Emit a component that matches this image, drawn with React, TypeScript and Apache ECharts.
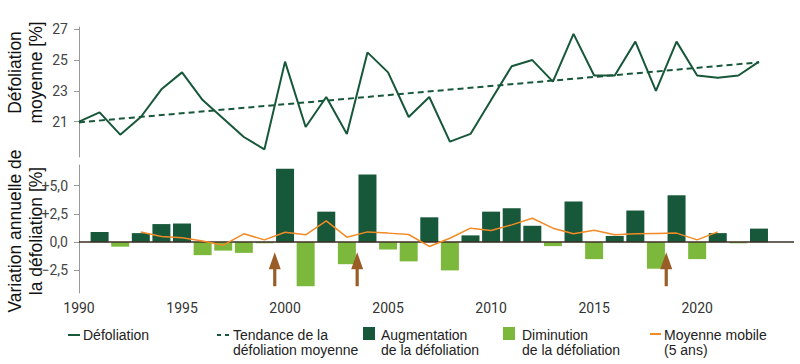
import React, { useEffect, useRef } from "react";
import * as echarts from "echarts";

const years = [
  1990, 1991, 1992, 1993, 1994, 1995, 1996, 1997, 1998, 1999, 2000, 2001,
  2002, 2003, 2004, 2005, 2006, 2007, 2008, 2009, 2010, 2011, 2012, 2013,
  2014, 2015, 2016, 2017, 2018, 2019, 2020, 2021, 2022, 2023,
];
const defoliation = [
  21.0, 21.6, 20.15, 21.3, 23.1, 24.2, 22.4, 21.2, 20.0, 19.2, 24.9, 20.65,
  22.6, 20.2, 25.5, 24.2, 21.3, 22.6, 19.7, 20.2, 22.4, 24.6, 25.0, 23.6,
  26.7, 24.0, 24.0, 26.2, 23.0, 26.2, 24.0, 23.85, 24.0, 24.9,
];
const trendYears = [1990, 2023];
const trendValues = [20.95, 24.85];

const changeYears = [
  1991, 1992, 1993, 1994, 1995, 1996, 1997, 1998, 1999, 2000, 2001, 2002,
  2003, 2004, 2005, 2006, 2007, 2008, 2009, 2010, 2011, 2012, 2013, 2014,
  2015, 2016, 2017, 2018, 2019, 2020, 2021, 2022, 2023,
];
const changes = [
  0.9, -0.4, 0.8, 1.6, 1.65, -1.15, -0.75, -0.95, -0.1, 6.5, -3.9, 2.7,
  -1.95, 6.0, -0.65, -1.7, 2.2, -2.5, 0.6, 2.7, 3.0, 1.45, -0.35, 3.6,
  -1.5, 0.55, 2.8, -2.35, 4.15, -1.5, 0.8, -0.1, 1.2,
];

const movingYears = [
  1993, 1994, 1995, 1996, 1997, 1998, 1999, 2000, 2001, 2002, 2003, 2004,
  2005, 2006, 2007, 2008, 2009, 2010, 2011, 2012, 2013, 2014, 2015, 2016,
  2017, 2018, 2019, 2020, 2021,
];
const movingAvg = [
  0.9, 0.5, 0.4, 0.1, -0.27, 0.74, 0.2, 0.88, 0.65, 1.89, 0.44, 0.91, 0.8,
  0.68, -0.38, 0.35, 1.24, 1.03, 1.53, 2.12, 1.24, 0.74, 1.06, 0.65, 0.74,
  0.77, 0.8, 0.2, 0.91,
];

const arrowYears = [1999.5, 2003.5, 2018.5];
const arrowLevel = -2.4;

const xTicks = [1990, 1995, 2000, 2005, 2010, 2015, 2020];
const topTicks = [21, 23, 25, 27];
const bottomTicks = [-2.5, 0, 2.5, 5];

const DARK = "#17573a";
const LIGHT = "#7cb83b";
const ORANGE = "#f28a25";
const BROWN = "#9a5d27";
const AXIS_GREY = "#9a9a9a";
const NARROW = "Roboto, 'Liberation Sans', sans-serif";
const SANS = "'Liberation Sans', Arial, sans-serif";

export default function App() {
  const ref = useRef<HTMLDivElement>(null);

  useEffect(() => {
    if (!ref.current) return;
    const chart = echarts.init(ref.current, null, { renderer: "svg" });

    const xMin = 1990;
    const xMax = 2024.7;

    const fmtBottom = (v: number) => {
      if (v === 0) return "0,0";
      const s = Math.abs(v).toFixed(1).replace(".", ",");
      return (v > 0 ? "+" : "\u2212") + s;
    };

    const legendText = (x: number, text: string) => ({
      type: "text",
      x,
      y: 327.5,
      style: {
        text,
        font: `14px ${SANS}`,
        fill: "#222",
        textVerticalAlign: "top",
        lineHeight: 15,
      },
    });

    const option: any = {
      animation: false,
      backgroundColor: "#ffffff",
      grid: [
        { left: 79, top: 27, width: 715, height: 130, containLabel: false },
        { left: 79, top: 165, width: 715, height: 128, containLabel: false },
      ],
      xAxis: [
        {
          gridIndex: 0,
          type: "value",
          min: xMin,
          max: xMax,
          show: false,
        },
        {
          gridIndex: 1,
          type: "value",
          min: xMin,
          max: xMax,
          position: "bottom",
          axisLine: { show: false, onZero: false },
          axisTick: { show: false },
          splitLine: { show: false },
          axisLabel: {
            customValues: xTicks,
            formatter: (v: number) => String(v),
            fontFamily: NARROW,
            fontSize: 14,
            color: "#333",
            margin: 8,
          },
        },
      ],
      yAxis: [
        {
          gridIndex: 0,
          type: "value",
          min: 18.7,
          max: 27.15,
          axisLine: { show: true, lineStyle: { color: AXIS_GREY, width: 1 } },
          axisTick: {
            show: true,
            customValues: topTicks,
            length: 5,
            lineStyle: { color: AXIS_GREY },
          },
          splitLine: { show: false },
          axisLabel: {
            customValues: topTicks,
            formatter: (v: number) => String(v),
            fontFamily: NARROW,
            fontSize: 14,
            color: "#444",
            margin: 11,
          },
        },
        {
          gridIndex: 1,
          type: "value",
          min: -4.5,
          max: 6.83,
          axisLine: {
            show: true,
            onZero: false,
            lineStyle: { color: AXIS_GREY, width: 1 },
          },
          axisTick: {
            show: true,
            customValues: bottomTicks,
            length: 5,
            lineStyle: { color: AXIS_GREY },
          },
          splitLine: { show: false },
          axisLabel: {
            customValues: bottomTicks,
            formatter: fmtBottom,
            fontFamily: NARROW,
            fontSize: 14,
            color: "#444",
            margin: 11,
          },
        },
      ],
      series: [
        {
          name: "Défoliation",
          type: "line",
          xAxisIndex: 0,
          yAxisIndex: 0,
          data: years.map((y, i) => [y, defoliation[i]]),
          symbol: "none",
          lineStyle: { color: DARK, width: 2 },
          z: 3,
        },
        {
          name: "Tendance",
          type: "line",
          xAxisIndex: 0,
          yAxisIndex: 0,
          data: trendYears.map((y, i) => [y, trendValues[i]]),
          symbol: "none",
          lineStyle: { color: DARK, width: 2, type: [6, 4] },
          z: 2,
        },
        {
          name: "Variation",
          type: "bar",
          xAxisIndex: 1,
          yAxisIndex: 1,
          barWidth: 18,
          data: changeYears.map((y, i) => [y, changes[i]]),
          itemStyle: {
            color: (p: any) => (p.value[1] >= 0 ? DARK : LIGHT),
          },
          markLine: {
            silent: true,
            symbol: "none",
            label: { show: false },
            lineStyle: { color: "#3a2e22", width: 1.5, type: "solid" },
            data: [{ yAxis: 0 }],
            z: 4,
          },
          z: 2,
        },
        {
          name: "Moyenne mobile",
          type: "line",
          xAxisIndex: 1,
          yAxisIndex: 1,
          data: movingYears.map((y, i) => [y, movingAvg[i]]),
          symbol: "none",
          lineStyle: { color: ORANGE, width: 1.5 },
          z: 5,
        },
        {
          name: "Flèches",
          type: "scatter",
          xAxisIndex: 1,
          yAxisIndex: 1,
          data: arrowYears.map((y) => [y, arrowLevel]),
          symbol:
            "path://M6,0 L12,17 L7.6,17 L7.6,34 L4.4,34 L4.4,17 L0,17 Z",
          symbolSize: [12, 34],
          itemStyle: { color: BROWN, opacity: 1 },
          z: 6,
        },
      ],
      graphic: [
        {
          type: "text",
          x: 25,
          y: 72.5,
          rotation: Math.PI / 2,
          style: {
            text: "Défoliation\nmoyenne [%]",
            font: `17.5px ${SANS}`,
            fill: "#111",
            textAlign: "center",
            textVerticalAlign: "middle",
            lineHeight: 21,
          },
        },
        {
          type: "text",
          x: 25,
          y: 231,
          rotation: Math.PI / 2,
          style: {
            text: "Variation annuelle de\nla défoliation [%]",
            font: `17.5px ${SANS}`,
            fill: "#111",
            textAlign: "center",
            textVerticalAlign: "middle",
            lineHeight: 21,
          },
        },
        // legend
        {
          type: "line",
          shape: { x1: 68, y1: 335, x2: 80, y2: 335 },
          style: { stroke: DARK, lineWidth: 2 },
        },
        legendText(83, "Défoliation"),
        {
          type: "line",
          shape: { x1: 217, y1: 335, x2: 230, y2: 335 },
          style: { stroke: DARK, lineWidth: 2, lineDash: [4, 4] },
        },
        legendText(233, "Tendance de la\ndéfoliation moyenne"),
        {
          type: "rect",
          shape: { x: 363, y: 327, width: 12, height: 13 },
          style: { fill: DARK },
        },
        legendText(381, "Augmentation\nde la défoliation"),
        {
          type: "rect",
          shape: { x: 503, y: 327, width: 12, height: 13 },
          style: { fill: LIGHT },
        },
        legendText(522, "Diminution\nde la défoliation"),
        {
          type: "line",
          shape: { x1: 650, y1: 334, x2: 661, y2: 334 },
          style: { stroke: ORANGE, lineWidth: 2 },
        },
        legendText(664, "Moyenne mobile\n(5 ans)"),
      ],
    };

    chart.setOption(option);
    return () => chart.dispose();
  }, []);

  return (
    <div
      ref={ref}
      style={{
        position: "fixed",
        left: 0,
        top: 0,
        width: 800,
        height: 364,
        background: "#fff",
      }}
    />
  );
}
